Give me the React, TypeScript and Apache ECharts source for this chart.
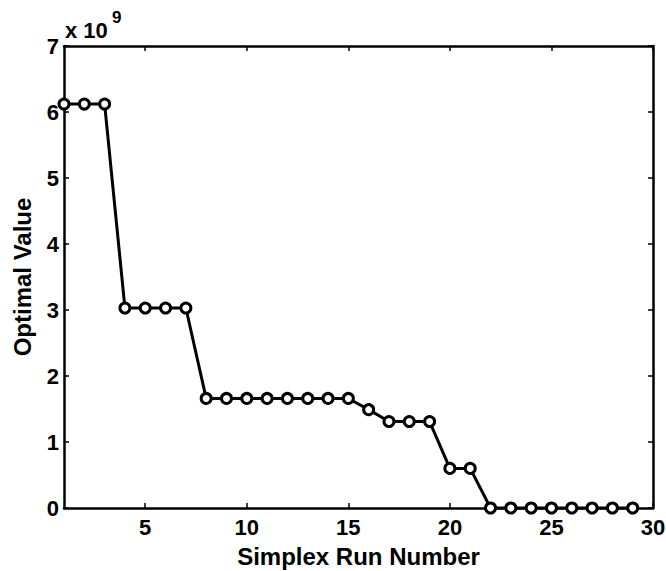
import React, { useEffect, useRef } from "react";
import * as echarts from "echarts";

// Simplex run numbers (x) and optimal values (in units of 1e9)
const runNumbers = [1, 2, 3, 4, 5, 6, 7, 8, 9, 10, 11, 12, 13, 14, 15, 16, 17, 18, 19, 20, 21, 22, 23, 24, 25, 26, 27, 28, 29];
const optimalValues = [
  6.12, 6.12, 6.12, 3.03, 3.03, 3.03, 3.03, 1.66, 1.66, 1.66, 1.66, 1.66, 1.66, 1.66, 1.66,
  1.49, 1.31, 1.31, 1.31, 0.6, 0.6, 0, 0, 0, 0, 0, 0, 0, 0,
];
const xTicks = [5, 10, 15, 20, 25, 30];
const xTitle = "Simplex Run Number";
const yTitle = "Optimal Value";
const scaleBase = "x 10";
const scaleExp = "9";

const FONT = "Liberation Sans, Arial, sans-serif";

export default function App() {
  const ref = useRef<HTMLDivElement>(null);
  useEffect(() => {
    if (!ref.current) return;
    const chart = echarts.init(ref.current, null, { renderer: "svg" });
    const tickCommon = { inside: true, length: 5, lineStyle: { color: "#000", width: 1.5 } };
    const labelStyle = { fontFamily: FONT, fontWeight: "bold", fontSize: 22, color: "#000" };
    const titleStyle = { fontFamily: FONT, fontWeight: "bold", fontSize: 24, color: "#000" };
    chart.setOption({
      animation: false,
      backgroundColor: "#fff",
      grid: { left: 64, right: 13, top: 46, bottom: 63, containLabel: false, outerBoundsMode: "none" },
      xAxis: [
        {
          type: "value",
          min: 1,
          max: 30,
          name: xTitle,
          nameLocation: "middle",
          nameGap: 36,
          nameTextStyle: titleStyle,
          axisLine: { show: true, lineStyle: { color: "#000", width: 2.5 } },
          axisTick: { ...tickCommon, customValues: xTicks },
          axisLabel: { customValues: xTicks, margin: 8, ...labelStyle },
          splitLine: { show: false },
        },
        {
          type: "value",
          position: "top",
          min: 1,
          max: 30,
          axisLine: { show: true, onZero: false, lineStyle: { color: "#000", width: 2.5 } },
          axisTick: { ...tickCommon, customValues: xTicks },
          axisLabel: { show: false },
          splitLine: { show: false },
        },
      ],
      yAxis: [
        {
          type: "value",
          min: 0,
          max: 7,
          interval: 1,
          name: yTitle,
          nameLocation: "middle",
          nameGap: 30,
          nameRotate: 90,
          nameTextStyle: titleStyle,
          axisLine: { show: true, lineStyle: { color: "#000", width: 2.5 } },
          axisTick: { ...tickCommon },
          axisLabel: { margin: 5, ...labelStyle },
          splitLine: { show: false },
        },
        {
          type: "value",
          position: "right",
          min: 0,
          max: 7,
          interval: 1,
          axisLine: { show: true, onZero: false, lineStyle: { color: "#000", width: 2.5 } },
          axisTick: { ...tickCommon },
          axisLabel: { show: false },
          splitLine: { show: false },
        },
      ],
      graphic: [
        {
          type: "text",
          left: 65,
          top: 19,
          style: { text: scaleBase, font: `bold 22px ${FONT}`, fill: "#000" },
        },
        {
          type: "text",
          left: 112,
          top: 9,
          style: { text: scaleExp, font: `bold 17px ${FONT}`, fill: "#000" },
        },
      ],
      series: [
        {
          type: "line",
          data: runNumbers.map((x, i) => [x, optimalValues[i]]),
          symbol: "circle",
          symbolSize: 10,
          showAllSymbol: true,
          clip: false,
          lineStyle: { color: "#000", width: 3 },
          itemStyle: { color: "#fff", borderColor: "#000", borderWidth: 3 },
          z: 3,
        },
      ],
    });
    return () => chart.dispose();
  }, []);
  return (
    <div
      ref={ref}
      style={{ position: "fixed", left: 0, top: 0, width: 666, height: 571, background: "#fff" }}
    />
  );
}
